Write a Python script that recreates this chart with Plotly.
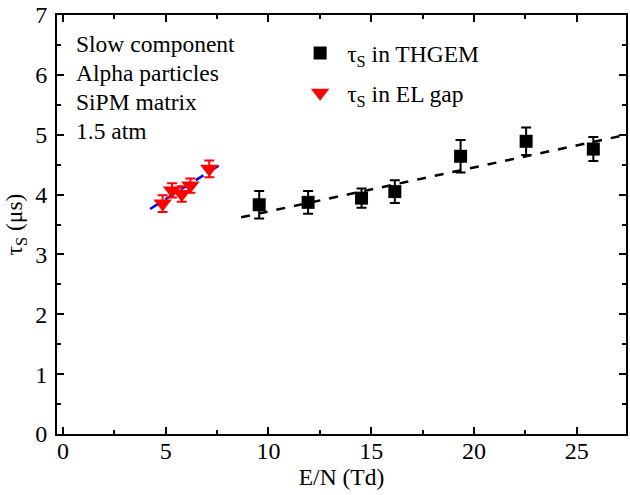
import plotly.graph_objects as go

# tau_S in THGEM
thgem_x = [9.55, 11.93, 14.53, 16.15, 19.35, 22.54, 25.81]
thgem_y = [3.83, 3.87, 3.94, 4.05, 4.64, 4.89, 4.76]
thgem_err = [0.23, 0.19, 0.16, 0.19, 0.27, 0.23, 0.20]

# tau_S in EL gap
elgap_x = [4.85, 5.31, 5.78, 6.20, 7.12]
elgap_y = [3.85, 4.07, 4.01, 4.15, 4.43]
elgap_err = [0.14, 0.12, 0.13, 0.12, 0.14]

# linear fits (endpoints)
fit_thgem_x = [8.67, 27.3]
fit_thgem_y = [3.62, 4.99]
fit_el_x = [4.24, 7.85]
fit_el_y = [3.76, 4.54]

info_lines = ["Slow component", "Alpha particles", "SiPM matrix", "1.5 atm"]

FONT = "Liberation Serif, Times New Roman, serif"

fig = go.Figure()

fig.add_trace(go.Scatter(x=fit_thgem_x, y=fit_thgem_y, mode="lines",
                         line=dict(color="black", width=2.5, dash="dash"),
                         showlegend=False, hoverinfo="skip"))
fig.add_trace(go.Scatter(x=fit_el_x, y=fit_el_y, mode="lines",
                         line=dict(color="blue", width=2.5, dash="dash"),
                         showlegend=False, hoverinfo="skip"))

fig.add_trace(go.Scatter(
    x=thgem_x, y=thgem_y, mode="markers", name="τ<sub>S</sub> in THGEM",
    legendgroup="a",
    marker=dict(symbol="square", size=13, color="black"),
    error_y=dict(type="data", array=thgem_err, color="black", thickness=2, width=5)))
fig.add_trace(go.Scatter(
    x=elgap_x, y=elgap_y, mode="markers", name="τ<sub>S</sub> in EL gap",
    legendgroup="b",
    marker=dict(symbol="triangle-down", size=16, color="red"),
    error_y=dict(type="data", array=elgap_err, color="red", thickness=2, width=5)))

for i, t in enumerate(info_lines):
    fig.add_annotation(x=0.03, y=0.93 - i * 0.069, xref="paper", yref="paper",
                       text=t, showarrow=False, xanchor="left", yanchor="middle",
                       font=dict(family=FONT, size=23.5, color="black"))

axis_common = dict(showline=True, linecolor="black", linewidth=2, mirror="allticks",
                   ticks="inside", ticklen=7, tickwidth=1.5, tickcolor="black",
                   showgrid=False, zeroline=False,
                   tickfont=dict(family=FONT, size=24, color="black"),
                   title_font=dict(family=FONT, size=23.5, color="black"))

fig.update_xaxes(range=[-0.29, 27.4], tick0=0, dtick=5,
                 minor=dict(ticks="inside", ticklen=4, dtick=2.5, tick0=0, tickcolor="black"),
                 ticklabelstandoff=-6,
                 title_text="E/N (Td)", title_standoff=0, **axis_common)
fig.update_yaxes(range=[0, 7], tick0=0, dtick=1,
                 minor=dict(ticks="inside", ticklen=4, dtick=0.5, tick0=0, tickcolor="black"),
                 ticklabelstandoff=3,
                 title_text="τ<sub>S</sub> (μs)", title_standoff=6, **axis_common)

fig.update_layout(
    width=630, height=495,
    margin=dict(l=57, r=2, t=14, b=61),
    paper_bgcolor="white", plot_bgcolor="white",
    font=dict(family=FONT, size=23.5, color="black"),
    legend=dict(x=0.415, y=0.961, xanchor="left", yanchor="top",
                bgcolor="rgba(0,0,0,0)", font=dict(family=FONT, size=23.5),
                tracegroupgap=6, itemwidth=44),
)

# drop the default 8px page margin so the figure sits at the window's corner
fig.write_html("out.html", config={"displayModeBar": False},
               post_script="document.body.style.margin='0';")
